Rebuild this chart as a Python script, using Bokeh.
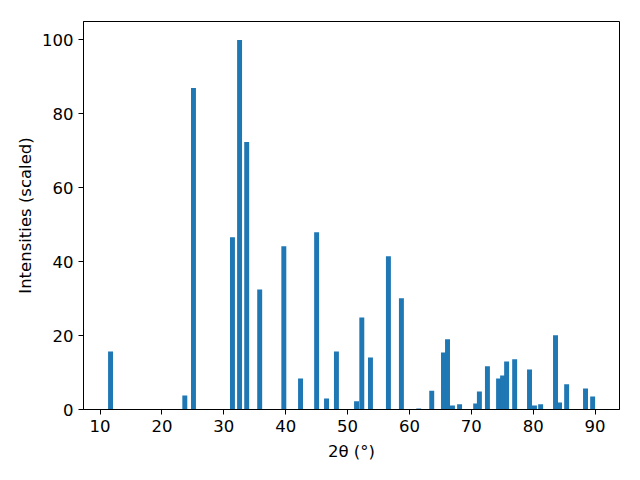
from bokeh.plotting import figure
from bokeh.models import Range1d, FixedTicker
from bokeh.embed import file_html
from bokeh.resources import INLINE

two_theta = [11.7, 23.7, 25.1, 31.4, 32.55, 33.7, 35.8, 39.7, 42.4, 45.0,
             46.6, 48.2, 51.45, 52.3, 53.7, 56.6, 58.7, 61.5, 63.6, 65.5,
             66.15, 66.95, 68.1, 70.7, 71.3, 72.6, 74.4, 75.05, 75.7, 77.0,
             79.4, 80.2, 81.2, 83.6, 84.25, 85.4, 88.45, 89.6]
intensity = [15.7, 3.8, 87.0, 46.6, 100.0, 72.4, 32.5, 44.2, 8.4, 48.0,
             3.0, 15.7, 2.2, 24.9, 14.1, 41.5, 30.1, 0.3, 5.1, 15.4,
             19.0, 1.1, 1.4, 1.6, 4.9, 11.7, 8.4, 9.2, 13.0, 13.6,
             10.8, 1.1, 1.4, 20.1, 1.9, 6.8, 5.7, 3.5]
x_ticks = [10, 20, 30, 40, 50, 60, 70, 80, 90]
y_ticks = [0, 20, 40, 60, 80, 100]

p = figure(width=632, height=472, output_backend="svg", toolbar_location=None,
           x_range=Range1d(7.33, 93.94), y_range=Range1d(0, 105))
p.min_border_left = 83
p.min_border_right = 13
p.min_border_top = 21
p.min_border_bottom = 63

p.vbar(x=two_theta, top=intensity, width=0.8, bottom=0, color="#1f77b4", line_color=None)

p.xgrid.visible = False
p.ygrid.visible = False
p.outline_line_color = "black"
p.outline_line_width = 1
p.outline_line_alpha = 1

for ax in (p.xaxis, p.yaxis):
    ax.major_label_text_font = "DejaVu Sans"
    ax.major_label_text_font_size = "16.5px"
    ax.major_label_text_color = "black"
    ax.axis_label_text_font = "DejaVu Sans"
    ax.axis_label_text_font_size = "16.5px"
    ax.axis_label_text_font_style = "normal"
    ax.axis_label_text_color = "black"
    ax.minor_tick_line_color = None
    ax.major_tick_out = 5
    ax.major_tick_in = 0
    ax.major_tick_line_color = "black"
    ax.axis_line_color = "black"

p.xaxis.ticker = FixedTicker(ticks=x_ticks)
p.yaxis.ticker = FixedTicker(ticks=y_ticks)
p.xaxis.axis_label = "2θ (°)"
p.yaxis.axis_label = "Intensities (scaled)"
p.xaxis.major_label_standoff = 5
p.yaxis.major_label_standoff = 5
p.xaxis.axis_label_standoff = 7
p.yaxis.axis_label_standoff = 4

open("out.html", "w").write(file_html(p, INLINE))
